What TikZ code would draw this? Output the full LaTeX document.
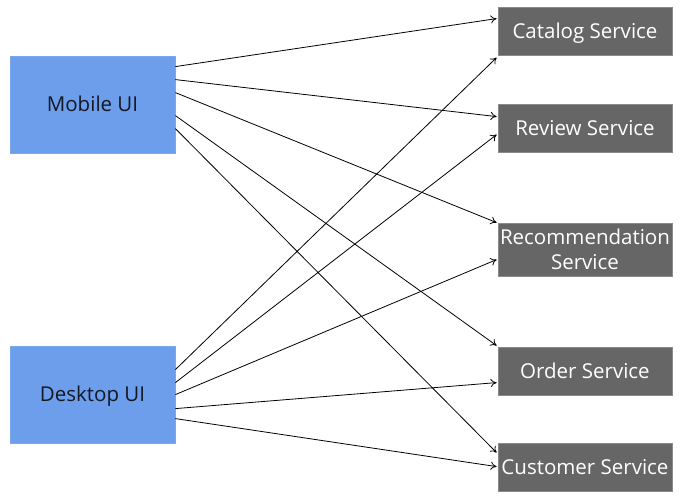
\documentclass[tikz,border=0pt]{standalone}
\usepackage{fontspec}
\setmainfont{Open Sans}
\usetikzlibrary{calc,arrows.meta}
\definecolor{uiblue}{HTML}{6D9EEB}
\definecolor{uiborder}{HTML}{7BA7EE}
\definecolor{svcgray}{HTML}{666666}
\definecolor{svcborder}{HTML}{8A8A8A}
\definecolor{uitext}{HTML}{141824}
\tikzset{
  uibox/.style={draw=uiborder, fill=uiblue, line width=0.8pt, minimum width=165pt, minimum height=97pt, inner sep=0pt, font=\fontsize{20.5}{24}\selectfont, text=uitext, text height=14.6pt, text depth=0pt},
  svcbox/.style={draw=svcborder, fill=svcgray, line width=0.8pt, minimum width=174pt, minimum height=48pt, inner sep=0pt, font=\fontsize{20.5}{25}\selectfont, text=white, align=center},
  onebox/.style={svcbox, text height=14.6pt, text depth=0pt},
  arr/.style={-{To[length=6pt,width=8pt]}, line width=0.8pt, black}
}
\begin{document}
\begin{tikzpicture}[x=1pt,y=-1pt]
\useasboundingbox (0,0) rectangle (683,500);
\node[uibox] (mob) at (92.5,104.5) {Mobile UI};
\node[uibox] (desk) at (92.5,394.5) {Desktop UI};
\node[onebox] (cat) at (585,31) {Catalog Service};
\node[onebox] (rev) at (585,128) {Review Service};
\node[svcbox, minimum height=53pt] (rec) at (585,249.5) {Recommendation\\Service};
\node[onebox] (ord) at (585,371) {Order Service};
\node[onebox] (cus) at (585,467) {Customer Service};
% Mobile UI connectors
\draw[arr] ($(mob.north east)+(0,11)$) -- ($(cat.north west)+(-1,12)$);
\draw[arr] ($(mob.north east)+(0,24)$) -- ($(rev.north west)+(-1,13)$);
\draw[arr] ($(mob.north east)+(0,37)$) -- ($(rec.north west)+(-1,0)$);
\draw[arr] ($(mob.north east)+(0,60)$) -- ($(ord.north west)+(-1,-1)$);
\draw[arr] ($(mob.north east)+(0,73)$) -- ($(cus.north west)+(-1,10)$);
% Desktop UI connectors
\draw[arr] ($(desk.north east)+(0,24)$) -- ($(cat.north west)+(-1,51)$);
\draw[arr] ($(desk.north east)+(0,37)$) -- ($(rev.north west)+(-1,31)$);
\draw[arr] ($(desk.north east)+(0,49)$) -- ($(rec.north west)+(-1,37)$);
\draw[arr] ($(desk.north east)+(0,63)$) -- ($(ord.north west)+(-1,36)$);
\draw[arr] ($(desk.north east)+(0,73)$) -- ($(cus.north west)+(-1,24)$);
\end{tikzpicture}
\end{document}
